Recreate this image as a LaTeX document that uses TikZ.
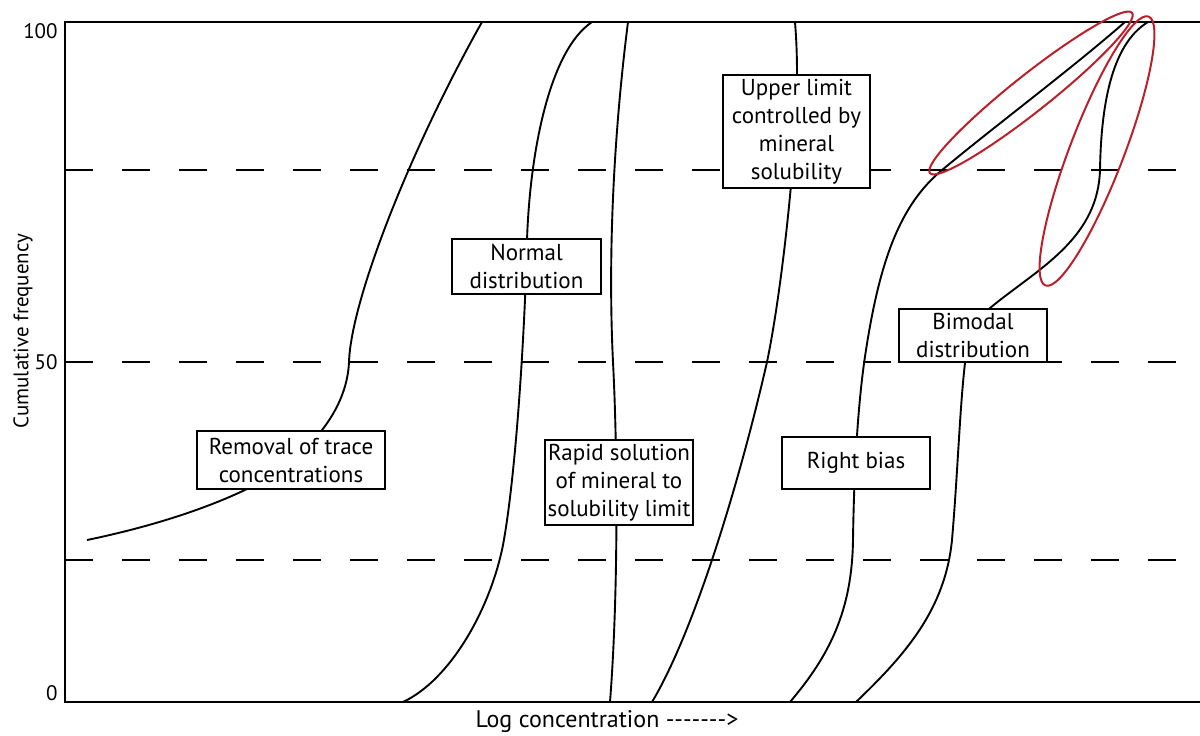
\documentclass[tikz,border=0pt]{standalone}
\usepackage{fontspec}
\setmainfont{PT Sans}
\definecolor{ringred}{RGB}{185,32,42}
\begin{document}
\begin{tikzpicture}[x=0.5pt,y=-0.5pt,
  curve/.style={line width=0.95pt, line join=round},
  frameline/.style={line width=1pt},
  guide/.style={line width=1pt, dash pattern=on 14pt off 14.5pt},
  lbl/.style={draw, line width=1pt, fill=white, align=center, inner sep=0pt,
    font=\fontsize{11.5}{14}\selectfont},
  tick/.style={font=\fontsize{10.5}{12}\selectfont, inner sep=0pt},
  ring/.style={draw=ringred, line width=1pt},
]
\useasboundingbox (0,0) rectangle (1200,735);

% dashed guide lines
\foreach \yy in {170,362,560} \draw[guide] (65,\yy) -- (1176,\yy);

% frame
\draw[frameline] (1200,22) -- (65,22) -- (65,702) -- (1200,702);

% axis labels
\node[tick, anchor=east] (t100) at (58,31) {100};
\node[tick, anchor=east] (t50) at (58,362) {50};
\node[tick, anchor=east] (t0) at (58,693) {0};
\node[tick, rotate=90] (ylab) at (23,331) {Cumulative frequency};
\node[tick, font=\fontsize{12}{12}\selectfont] (xlab) at (607,722) {Log concentration -{}-{}-{}-{}-{}-{}->};

% curves
\draw[curve] (87,540) .. controls (150,527) and (210,508) .. (255,485)
  .. controls (310,455) and (347,410) .. (349,362)
  .. controls (351,300) and (410,150) .. (482,22);
\draw[curve] (403,702) .. controls (450,680) and (490,610) .. (503,545)
  .. controls (516,475) and (525,330) .. (527,240)
  .. controls (530,150) and (550,50) .. (592,22);
\draw[curve] (628,22) .. controls (613,140) and (608,260) .. (613,362)
  .. controls (618,460) and (618,600) .. (610,702);
\draw[curve] (652,702) .. controls (695,630) and (740,480) .. (767,362)
  .. controls (782,290) and (797,150) .. (797,75)
  .. controls (797,50) and (796,35) .. (795,22);
\draw[curve] (790,702) .. controls (830,655) and (852,610) .. (853,540)
  .. controls (854,470) and (858,400) .. (866,350)
  .. controls (880,260) and (900,205) .. (942,170)
  .. controls (1000,122) and (1070,70) .. (1125,22);
\draw[curve] (856,702) .. controls (905,655) and (945,610) .. (952,540)
  .. controls (958,470) and (960,400) .. (966,355)
  .. controls (972,320) and (985,312) .. (1000,300)
  .. controls (1045,265) and (1098,235) .. (1100,170)
  .. controls (1101,110) and (1110,45) .. (1148,22);

% labels
\node[lbl, minimum width=94pt, minimum height=29pt] (removal) at (291,460) {Removal of trace\\concentrations};
\node[lbl, minimum width=74.5pt, minimum height=27.5pt] (normal) at (526.5,266.5) {Normal\\distribution};
\node[lbl, minimum width=74pt, minimum height=42.5pt] (rapid) at (619,482.5) {Rapid solution\\of mineral to\\solubility limit};
\node[lbl, minimum width=73.5pt, minimum height=56.5pt] (upper) at (796.5,131.5) {Upper limit\\controlled by\\mineral\\solubility};
\node[lbl, minimum width=74pt, minimum height=26pt] (right) at (856,463) {Right bias};
\node[lbl, minimum width=74pt, minimum height=26.5pt] (bimodal) at (973,335.5) {Bimodal\\distribution};

% red rings
\draw[ring, rotate around={38.4:(1031,93)}] (1031,93) ellipse [x radius=129, y radius=18.5];
\draw[ring, rotate around={69:(1097,151)}] (1097,151) ellipse [x radius=144, y radius=27];
\end{tikzpicture}
\end{document}
